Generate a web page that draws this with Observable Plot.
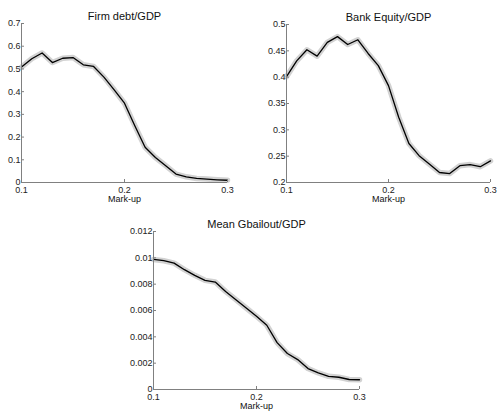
<!DOCTYPE html>
<html>
<head>
<meta charset="utf-8">
<script src="https://cdn.jsdelivr.net/npm/d3@7"></script>
<script src="https://cdn.jsdelivr.net/npm/@observablehq/plot@0.6"></script>
<style>
  html, body { margin: 0; padding: 0; background: #fff; }
  #wrap { position: relative; width: 497px; height: 411px; overflow: hidden; }
  #wrap > div { position: absolute; }
  svg { font-family: "Liberation Sans", Arial, sans-serif; }
</style>
</head>
<body>
<div id="wrap">
  <div id="p1" style="left:0px;top:0px"></div>
  <div id="p2" style="left:248px;top:0px"></div>
  <div id="p3" style="left:90px;top:205px"></div>
</div>
<script>
const markup = [0.10,0.11,0.12,0.13,0.14,0.15,0.16,0.17,0.18,0.19,0.20,0.21,0.22,0.23,0.24,0.25,0.26,0.27,0.28,0.29,0.30];

const firmDebt = [0.508,0.545,0.570,0.528,0.547,0.550,0.518,0.511,0.464,0.408,0.349,0.250,0.155,0.110,0.074,0.037,0.025,0.018,0.015,0.012,0.010];
const bankEquity = [0.401,0.431,0.452,0.440,0.466,0.477,0.462,0.471,0.445,0.422,0.384,0.324,0.274,0.251,0.235,0.219,0.217,0.232,0.234,0.230,0.241];
const gbailout = [0.00988,0.00978,0.00960,0.00910,0.00867,0.00829,0.00816,0.00745,0.00682,0.00619,0.00556,0.00488,0.00356,0.00273,0.00227,0.00159,0.00126,0.00100,0.00093,0.00076,0.00074];

const xTicks1 = [0.1, 0.2, 0.3];
const yTicksFirm = [0, 0.1, 0.2, 0.3, 0.4, 0.5, 0.6, 0.7];
const yTicksBank = [0.2, 0.25, 0.3, 0.35, 0.4, 0.45, 0.5];
const yTicksBail = [0, 0.002, 0.004, 0.006, 0.008, 0.01, 0.012];

const titles = ["Firm debt/GDP", "Bank Equity/GDP", "Mean Gbailout/GDP"];
const xLabel = "Mark-up";

function panel({values, yDomain, yTicks, title, width, height, ml, mr, mt, mb}) {
  const data = markup.map((x, i) => ({x, y: values[i]}));
  return Plot.plot({
    width, height,
    marginLeft: ml, marginRight: mr, marginTop: mt, marginBottom: mb,
    style: {fontSize: "9px", color: "#222", background: "transparent", overflow: "visible"},
    x: {domain: [0.1, 0.3]},
    y: {domain: yDomain},
    marks: [
      Plot.lineY(data, {x: "x", y: "y", stroke: "#d2d2d2", strokeWidth: 5.5, strokeLinejoin: "round"}),
      Plot.lineY(data, {x: "x", y: "y", stroke: "#000", strokeWidth: 1.3}),
      Plot.axisY({ticks: yTicks, tickSize: -3, tickPadding: 4, stroke: "#808080", tickFormat: d => String(+d.toFixed(4)), fill: "#222", label: null}),
      Plot.axisX({ticks: xTicks1, tickSize: -3, tickPadding: 7, stroke: "#808080", tickFormat: d => String(+d.toFixed(2)), fill: "#222", label: null}),
      Plot.ruleX([0.1], {stroke: "#808080"}),
      Plot.ruleY([yDomain[0]], {stroke: "#808080"}),
      Plot.text([title], {frameAnchor: "top", dy: -11, fontSize: 11, fill: "#111"}),
      Plot.text([xLabel], {frameAnchor: "bottom", dy: 19, fontSize: 9, fill: "#111"})
    ]
  });
}

document.getElementById("p1").append(panel({values: firmDebt, yDomain: [0, 0.7], yTicks: yTicksFirm, title: titles[0], width: 248, height: 210, ml: 21, mr: 21, mt: 23, mb: 28}));
document.getElementById("p2").append(panel({values: bankEquity, yDomain: [0.2, 0.5], yTicks: yTicksBank, title: titles[1], width: 249, height: 210, ml: 38, mr: 7, mt: 24, mb: 28}));
document.getElementById("p3").append(panel({values: gbailout, yDomain: [0, 0.012], yTicks: yTicksBail, title: titles[2], width: 300, height: 206, ml: 63, mr: 31, mt: 26, mb: 22}));
</script>
</body>
</html>
